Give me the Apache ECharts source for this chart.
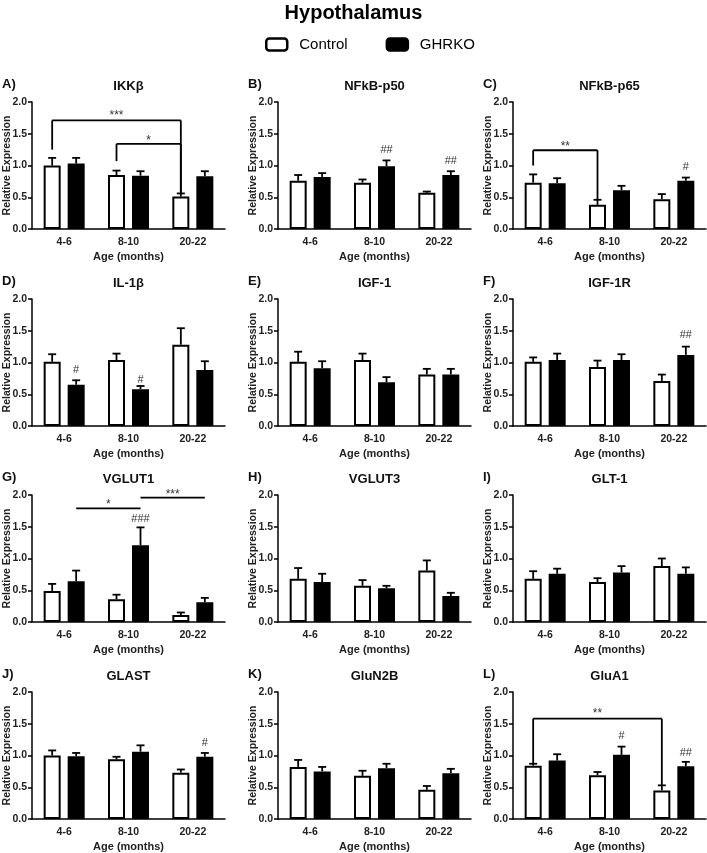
<!DOCTYPE html>
<html><head><meta charset="utf-8">
<script src="https://cdn.jsdelivr.net/npm/echarts@6/dist/echarts.min.js"></script>
<style>html,body{margin:0;padding:0;background:#fff}#c{width:707px;height:853px}</style>
</head><body><div id="c"></div>
<script>
// ---------------- DATA ----------------
const categories = ['4-6', '8-10', '20-22'];
const yMin = 0, yMax = 2, yStep = 0.5;
const panelLetters = ['A)','B)','C)','D)','E)','F)','G)','H)','I)','J)','K)','L)'];
const panelTitles = ['IKKβ','NFkB-p50','NFkB-p65','IL-1β','IGF-1','IGF-1R','VGLUT1','VGLUT3','GLT-1','GLAST','GluN2B','GluA1'];
const seriesNames = ['Control', 'GHRKO'];

// mean values per panel: [4-6, 8-10, 20-22]
const controlMean = [
  [1.00, 0.85, 0.51], [0.76, 0.73, 0.57], [0.73, 0.38, 0.47],
  [1.01, 1.04, 1.28], [1.01, 1.04, 0.81], [1.01, 0.93, 0.71],
  [0.49, 0.36, 0.11], [0.68, 0.57, 0.81], [0.68, 0.63, 0.88],
  [1.00, 0.94, 0.73], [0.82, 0.68, 0.46], [0.84, 0.69, 0.45]
];
const controlSem = [
  [0.12, 0.07, 0.05], [0.09, 0.05, 0.02], [0.13, 0.08, 0.08],
  [0.12, 0.10, 0.26], [0.16, 0.10, 0.09], [0.07, 0.10, 0.10],
  [0.11, 0.07, 0.04], [0.17, 0.09, 0.16], [0.12, 0.06, 0.12],
  [0.08, 0.04, 0.05], [0.11, 0.08, 0.06], [0.03, 0.05, 0.08]
];
const ghrkoMean = [
  [1.03, 0.84, 0.83], [0.82, 0.99, 0.85], [0.72, 0.61, 0.76],
  [0.65, 0.58, 0.88], [0.91, 0.69, 0.81], [1.04, 1.04, 1.12],
  [0.64, 1.21, 0.31], [0.63, 0.53, 0.41], [0.76, 0.78, 0.76],
  [0.99, 1.06, 0.98], [0.75, 0.80, 0.72], [0.92, 1.01, 0.83]
];
const ghrkoSem = [
  [0.09, 0.07, 0.08], [0.06, 0.09, 0.06], [0.08, 0.07, 0.05],
  [0.07, 0.05, 0.14], [0.11, 0.08, 0.09], [0.10, 0.09, 0.13],
  [0.17, 0.28, 0.07], [0.13, 0.04, 0.05], [0.08, 0.10, 0.10],
  [0.05, 0.10, 0.06], [0.07, 0.07, 0.07], [0.10, 0.13, 0.07]
];
// GHRKO vs control marks: [panel, category, group(0=Control,1=GHRKO), text, y]
const hashMarks = [
  [1, 1, 1, '##', 1.25], [1, 2, 1, '##', 1.07],
  [2, 2, 1, '#', 0.98],
  [3, 0, 1, '#', 0.88], [3, 1, 1, '#', 0.73],
  [5, 2, 1, '##', 1.43],
  [6, 1, 1, '###', 1.62],
  [9, 2, 1, '#', 1.20],
  [11, 1, 1, '#', 1.30], [11, 2, 1, '##', 1.04]
];
// age comparisons: [panel, fromCat, fromGrp, toCat, toGrp, lineY, leftLegBottom, rightLegBottom, text, textY]
const brackets = [
  [0, 0, 0, 2, 0, 1.71, 1.25, 0.56, '***', 1.83],
  [0, 1, 0, 2, 0, 1.34, 1.07, 0.56, '*', 1.44],
  [2, 0, 0, 1, 0, 1.24, 1.00, 0.46, '**', 1.35],
  [6, 0, 1, 1, 1, 1.79, null, null, '*', 1.90],
  [6, 1, 1, 2, 1, 1.96, null, null, '***', 2.06],
  [11, 0, 0, 2, 0, 1.58, 0.87, 0.53, '**', 1.70]
];

// ---------------- STYLE / LAYOUT ----------------
const FONT = '"Liberation Sans", Arial, sans-serif';
const colLeft = [32, 278, 513];
const rowTop = [102, 299, 495, 692];
const plotW = 193, plotH = 127;
const BAR_W = 17, GAP_PX = 7, CAP = 8, LW = 1.8;
const grpOff = g => (g === 0 ? -1 : 1) * (BAR_W + GAP_PX) / 2;

const grids = [], xAxes = [], yAxes = [], series = [], titles = [];
titles.push({ text: 'Hypothalamus', left: 'center', top: 3, padding: 0,
  textStyle: { fontSize: 20, fontWeight: 'bold', color: '#000', fontFamily: FONT } });

for (let p = 0; p < 12; p++) {
  const r = Math.floor(p / 3), c = p % 3;
  grids.push({ left: colLeft[c], top: rowTop[r], width: plotW, height: plotH, outerBoundsMode: 'none', containLabel: false });
  titles.push({ text: panelTitles[p], left: colLeft[c] + plotW / 2, top: rowTop[r] - 22, textAlign: 'center', padding: 0,
    textStyle: { fontSize: 13, fontWeight: 'bold', color: '#111', fontFamily: FONT } });
  titles.push({ text: panelLetters[p], left: colLeft[c] - 30, top: rowTop[r] - 24, padding: 0,
    textStyle: { fontSize: 13, fontWeight: 'bold', color: '#111', fontFamily: FONT } });
  xAxes.push({ gridIndex: p, type: 'category', data: categories,
    axisTick: { show: false },
    axisLine: { show: true, lineStyle: { color: '#000', width: 1.5 } },
    axisLabel: { color: '#222', fontSize: 10.5, fontWeight: 'bold', fontFamily: FONT, margin: 8, interval: 0 },
    name: 'Age (months)', nameLocation: 'middle', nameGap: 22, nameMoveOverlap: false,
    nameTextStyle: { color: '#222', fontSize: 11, fontWeight: 'bold', fontFamily: FONT } });
  yAxes.push({ gridIndex: p, type: 'value', min: yMin, max: yMax, interval: yStep,
    axisLine: { show: true, lineStyle: { color: '#000', width: 1.5 } },
    axisTick: { show: true, length: 4, lineStyle: { color: '#000', width: 1.5 } },
    splitLine: { show: false },
    axisLabel: { color: '#222', fontSize: 10.5, fontWeight: 'bold', fontFamily: FONT, margin: 5,
      formatter: v => v.toFixed(1) },
    name: 'Relative Expression', nameLocation: 'middle', nameRotate: 90, nameGap: 25, nameMoveOverlap: false,
    nameTextStyle: { color: '#222', fontSize: 10.5, fontWeight: 'bold', fontFamily: FONT,
      verticalAlign: 'middle' } });

  series.push({ type: 'bar', name: seriesNames[0], xAxisIndex: p, yAxisIndex: p, data: controlMean[p],
    barWidth: BAR_W, barGap: (GAP_PX / BAR_W * 100) + '%', silent: true,
    itemStyle: { color: '#fff', borderColor: '#000', borderWidth: 2 } });
  series.push({ type: 'bar', name: seriesNames[1], xAxisIndex: p, yAxisIndex: p, data: ghrkoMean[p],
    barWidth: BAR_W, barGap: (GAP_PX / BAR_W * 100) + '%', silent: true,
    itemStyle: { color: '#000', borderColor: '#000', borderWidth: 2 } });

  // error bars (mean + SEM)
  const errData = [];
  for (let k = 0; k < categories.length; k++) {
    errData.push([k, controlMean[p][k], controlSem[p][k], 0]);
    errData.push([k, ghrkoMean[p][k], ghrkoSem[p][k], 1]);
  }
  series.push({ type: 'custom', xAxisIndex: p, yAxisIndex: p, data: errData, silent: true, z: 5,
    encode: { x: 0, y: 1 },
    renderItem: (params, api) => {
      const cat = api.value(0), m = api.value(1), s = api.value(2), g = api.value(3);
      const p0 = api.coord([cat, m]), p1 = api.coord([cat, m + s]);
      const x = p0[0] + grpOff(g);
      const st = { stroke: '#000', lineWidth: LW };
      return { type: 'group', children: [
        { type: 'line', shape: { x1: x, y1: p0[1], x2: x, y2: p1[1] }, style: st },
        { type: 'line', shape: { x1: x - CAP / 2, y1: p1[1], x2: x + CAP / 2, y2: p1[1] }, style: st }
      ] };
    } });

  // hash marks
  const hm = hashMarks.filter(h => h[0] === p);
  if (hm.length) {
    series.push({ type: 'custom', xAxisIndex: p, yAxisIndex: p, silent: true, z: 6,
      data: hm.map(h => [h[1], h[4]]), encode: { x: 0, y: 1 },
      renderItem: (params, api) => {
        const h = hm[params.dataIndex];
        const pt = api.coord([h[1], h[4]]);
        return { type: 'text', style: { x: pt[0] + grpOff(h[2]), y: pt[1], text: h[3], align: 'center', verticalAlign: 'middle',
          fill: '#333', fontSize: 11, fontFamily: FONT } };
      } });
  }
  // brackets
  const br = brackets.filter(b => b[0] === p);
  if (br.length) {
    series.push({ type: 'custom', xAxisIndex: p, yAxisIndex: p, silent: true, z: 6, clip: false,
      data: br.map(b => [b[1], b[5]]), encode: { x: 0, y: 1 },
      renderItem: (params, api) => {
        const b = br[params.dataIndex];
        const a = api.coord([b[1], b[5]]), e = api.coord([b[3], b[5]]);
        const xa = a[0] + grpOff(b[2]), xe = e[0] + grpOff(b[4]), yl = a[1];
        const st = { stroke: '#000', lineWidth: LW };
        const ch = [{ type: 'line', shape: { x1: xa, y1: yl, x2: xe, y2: yl }, style: st }];
        if (b[6] !== null) ch.push({ type: 'line', shape: { x1: xa, y1: yl, x2: xa, y2: api.coord([b[1], b[6]])[1] }, style: st });
        if (b[7] !== null) ch.push({ type: 'line', shape: { x1: xe, y1: yl, x2: xe, y2: api.coord([b[3], b[7]])[1] }, style: st });
        const ty = api.coord([b[1], b[9]])[1];
        ch.push({ type: 'text', style: { x: (xa + xe) / 2, y: ty + 3, text: b[8], align: 'center', verticalAlign: 'middle',
          fill: '#333', fontSize: 12, fontFamily: FONT } });
        return { type: 'group', children: ch };
      } });
  }
}

const chart = echarts.init(document.getElementById('c'), null, { renderer: 'canvas' });
chart.setOption({
  animation: false,
  backgroundColor: '#fff',
  title: titles,
  legend: {
    left: 260, top: 32, itemWidth: 21, itemHeight: 12, itemGap: 38, icon: 'roundRect',
    textStyle: { fontSize: 15, color: '#000', fontFamily: FONT, padding: [0, 0, 0, 7] },
    data: [
      { name: 'Control', itemStyle: { color: '#fff', borderColor: '#000', borderWidth: 2.5 } },
      { name: 'GHRKO', itemStyle: { color: '#000', borderColor: '#000', borderWidth: 2.5 } }
    ],
    selectedMode: false
  },
  grid: grids, xAxis: xAxes, yAxis: yAxes, series: series
});
</script></body></html>
